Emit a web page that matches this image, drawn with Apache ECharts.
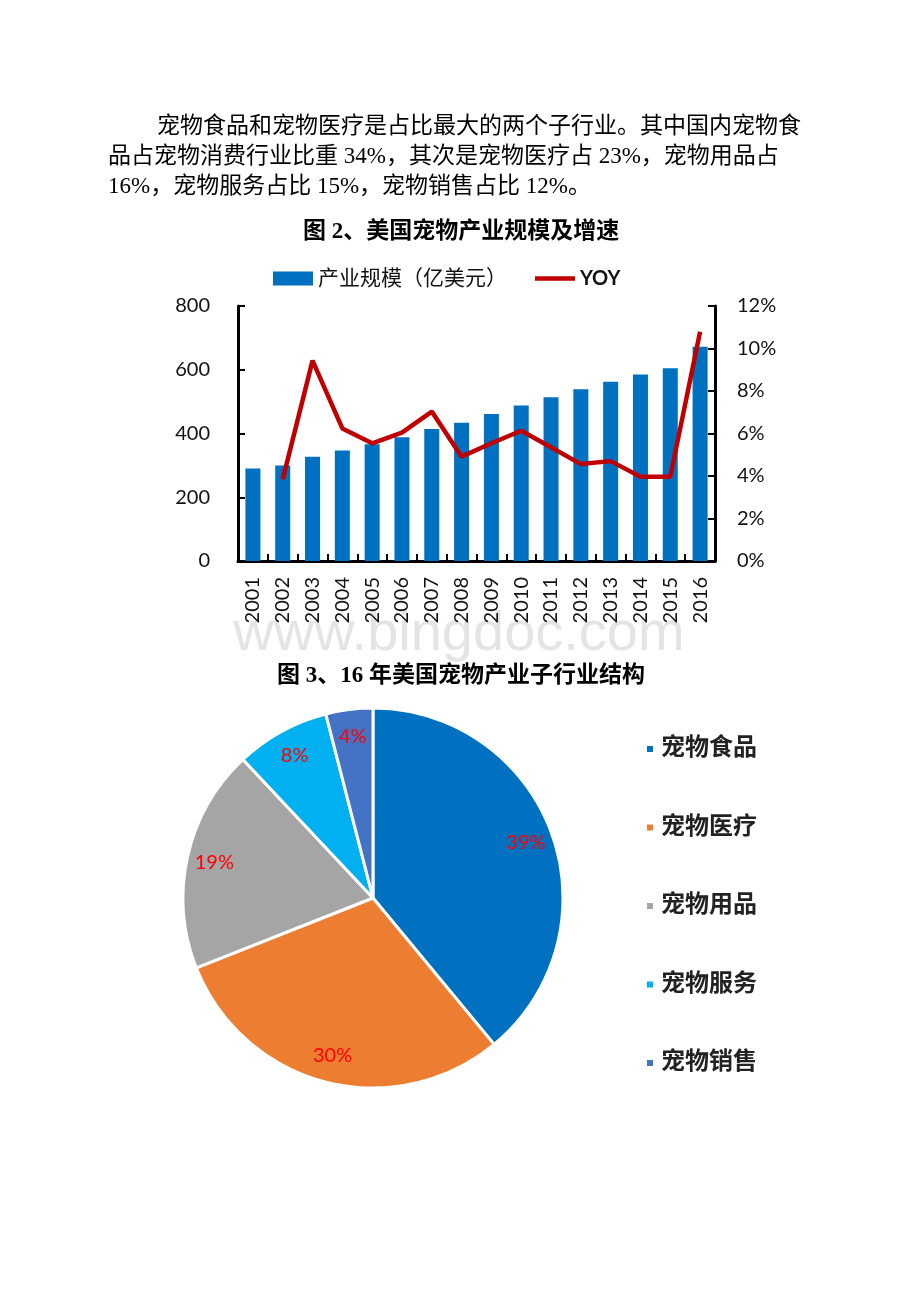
<!DOCTYPE html>
<html>
<head>
<meta charset="utf-8">
<script src="https://cdn.jsdelivr.net/npm/echarts@6/dist/echarts.min.js"></script>
<style>
html,body{margin:0;padding:0;background:#fff;}
#c{width:920px;height:1302px;}
</style>
</head>
<body>
<div id="c"></div>
<script>
// ---- data ----
const years = ['2001','2002','2003','2004','2005','2006','2007','2008','2009','2010','2011','2012','2013','2014','2015','2016'];
const scale = [290, 300, 327, 347, 366, 388, 414, 434, 461, 488, 514, 539, 562, 585, 605, 672];
const yoy = [null, 3.84, 9.43, 6.24, 5.54, 6.04, 7.03, 4.91, 5.54, 6.13, 5.35, 4.56, 4.70, 3.97, 3.97, 10.79];
const leftTicks = [0, 200, 400, 600, 800];
const rightTicks = [0, 2, 4, 6, 8, 10, 12];
const pieNames = ['宠物食品', '宠物医疗', '宠物用品', '宠物服务', '宠物销售'];
const pieValues = [39, 30, 19, 8, 4];
const pieColors = ['#0070C0', '#ED7D31', '#A5A5A5', '#00B0F0', '#4472C4'];
const paraLines = [
  '宠物食品和宠物医疗是占比最大的两个子行业。其中国内宠物食',
  '品占宠物消费行业比重 34%，其次是宠物医疗占 23%，宠物用品占',
  '16%，宠物服务占比 15%，宠物销售占比 12%。'
];
const caption1 = '图 2、美国宠物产业规模及增速';
const caption2 = '图 3、16 年美国宠物产业子行业结构';
const barName = '产业规模（亿美元）';
const lineName = 'YOY';

const serif = "'Liberation Serif','Noto Sans CJK SC'";
const sans = "Lato,'Noto Sans CJK SC'";

const chart = echarts.init(document.getElementById('c'), null, {renderer: 'canvas'});

const pieR = 190;
const option = {
  animation: false,
  backgroundColor: '#fff',
  graphic: [
    {type: 'text', left: 157, top: 115, style: {text: paraLines[0], font: '23px ' + serif, fill: '#000'}},
    {type: 'text', left: 108, top: 145, style: {text: paraLines[1], font: '23px ' + serif, fill: '#000'}},
    {type: 'text', left: 108, top: 175, style: {text: paraLines[2], font: '23px ' + serif, fill: '#000'}},
    {type: 'text', x: 461, y: 232, style: {text: caption1, font: 'bold 23px ' + serif, fill: '#000', textAlign: 'center', textVerticalAlign: 'middle'}},
    {type: 'text', x: 459, y: 635, style: {text: 'www.bingdoc.com', font: '56px "Liberation Sans"', fill: '#e4e4e4', textAlign: 'center', textVerticalAlign: 'middle'}},
    {type: 'text', x: 461, y: 676, style: {text: caption2, font: 'bold 23px ' + serif, fill: '#000', textAlign: 'center', textVerticalAlign: 'middle'}}
  ],
  legend: [
    {
      data: [
        {name: barName, icon: 'rect'},
        {name: lineName, icon: 'path://M0 0H40V4.4H0Z'}
      ],
      left: 268, top: 263,
      itemWidth: 40, itemHeight: 14, itemGap: 28,
      textStyle: {fontSize: 21, color: '#111', fontFamily: sans,
        rich: {b: {fontSize: 20, fontWeight: 'bold', color: '#111', fontFamily: sans}}},
      formatter: n => n === lineName ? '{b|' + n + '}' : n
    },
    {
      data: pieNames,
      orient: 'vertical', left: 640, top: 732,
      icon: 'rect', itemWidth: 8, itemHeight: 8, itemGap: 54.5,
      textStyle: {fontSize: 24, fontWeight: 'bold', color: '#222', fontFamily: serif, lineHeight: 24, padding: [0, 0, 0, 2]}
    }
  ],
  grid: {left: 238, right: 205, top: 306, bottom: 741, containLabel: false},
  xAxis: {
    type: 'category', data: years,
    axisLine: {lineStyle: {color: '#000', width: 3}},
    axisTick: {show: true, inside: true, length: 7, alignWithLabel: false, lineStyle: {color: '#000', width: 2}},
    axisLabel: {rotate: 90, margin: 16, fontSize: 20, color: '#111', fontFamily: sans, interval: 0}
  },
  yAxis: [
    {
      type: 'value', min: leftTicks[0], max: leftTicks[leftTicks.length - 1], interval: leftTicks[1] - leftTicks[0],
      axisLine: {show: true, lineStyle: {color: '#000', width: 3}},
      axisTick: {show: true, inside: true, length: 7, lineStyle: {color: '#000', width: 2}},
      splitLine: {show: false},
      axisLabel: {margin: 28, fontSize: 20, color: '#111', fontFamily: sans}
    },
    {
      type: 'value', min: rightTicks[0], max: rightTicks[rightTicks.length - 1], interval: rightTicks[1] - rightTicks[0],
      position: 'right',
      axisLine: {show: true, lineStyle: {color: '#000', width: 3}},
      axisTick: {show: true, inside: true, length: 7, lineStyle: {color: '#000', width: 2}},
      splitLine: {show: false},
      axisLabel: {margin: 22, fontSize: 20, color: '#111', fontFamily: sans, formatter: '{value}%'}
    }
  ],
  series: [
    {
      name: barName, type: 'bar', data: scale, barWidth: 15,
      itemStyle: {color: '#0070C0'}
    },
    {
      name: lineName, type: 'line', yAxisIndex: 1, data: yoy, symbol: 'none',
      connectNulls: false,
      lineStyle: {color: '#C00000', width: 4.5},
      itemStyle: {color: '#C00000'}
    },
    {
      name: 'pie', type: 'pie', center: [373, 898], radius: pieR, startAngle: 90, clockwise: true,
      data: pieNames.map((n, i) => ({name: n, value: pieValues[i], itemStyle: {color: pieColors[i]}})),
      itemStyle: {borderColor: '#fff', borderWidth: 3},
      label: {show: false}, labelLine: {show: false},
      emphasis: {disabled: true}
    },
    {
      name: 'pieLabels', type: 'pie', center: [373, 898], radius: [pieR * 0.68, pieR], startAngle: 90, clockwise: true,
      silent: true,
      data: pieNames.map((n, i) => ({name: n, value: pieValues[i]})),
      itemStyle: {color: 'rgba(0,0,0,0)', borderWidth: 0},
      label: {show: true, position: 'inside', formatter: '{c}%', color: '#FF0000', fontSize: 20, fontFamily: sans},
      labelLine: {show: false},
      emphasis: {disabled: true}
    }
  ]
};
chart.setOption(option);
</script>
</body>
</html>
